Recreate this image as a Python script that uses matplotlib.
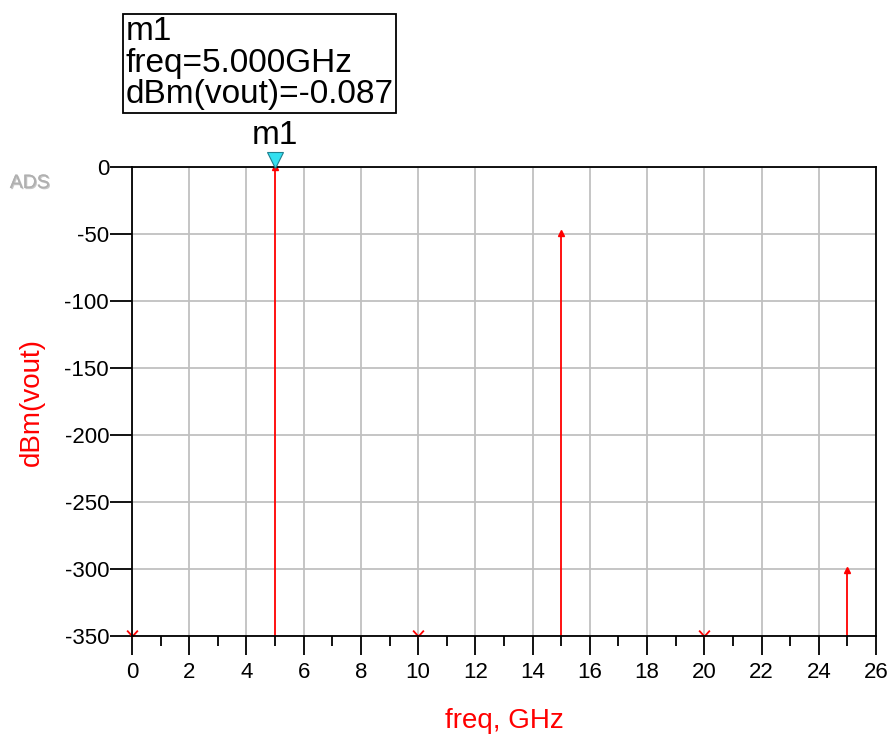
import matplotlib
matplotlib.use("Agg")
import matplotlib.pyplot as plt
from matplotlib.path import Path
import matplotlib.patheffects as pe
import numpy as np

plt.rcParams['font.family'] = ['Liberation Sans', 'DejaVu Sans']
plt.rcParams['axes.unicode_minus'] = False

freq = [0, 5, 10, 15, 20, 25]
dbm = [-400.0, -0.087, -400.0, -49.0, -400.0, -301.0]
ymin, ymax = -350, 0
xticks = list(range(0, 27, 2))
yticks = list(range(-350, 1, 50))
marker_freq = 5
marker_val = -0.087

fig = plt.figure(figsize=(8.9, 7.4), dpi=100)
ax = fig.add_axes([0.1483, 0.1405, 0.8360, 0.6338])
ax.set_xlim(0, 26)
ax.set_ylim(ymin, ymax)

red = '#ff0000'
vshape = Path([(-1, 1.1), (0, 0), (1, 1.1)], [Path.MOVETO, Path.LINETO, Path.LINETO])
for f, v in zip(freq, dbm):
    if v >= ymin:
        ax.vlines(f, ymin, v, color=red, lw=1.3, zorder=3)
        ax.plot([f], [v], marker='^', color=red, ms=5, zorder=4, clip_on=False)
    else:
        ax.plot([f], [ymin], marker=vshape, color=red, ms=8.5, mew=1.3,
                fillstyle='none', linestyle='none', zorder=4, clip_on=False)

ax.set_xticks(xticks)
ax.set_yticks(yticks)
ax.set_xticks(range(1, 26, 2), minor=True)
ax.grid(True, which='major', color='#c0c0c0', lw=1.3)
ax.set_axisbelow(True)
for s in ax.spines.values():
    s.set_color('black')
    s.set_linewidth(1.3)
    s.set_zorder(5)
ax.tick_params(axis='x', which='major', length=13.7, width=1.3, direction='out', labelsize=16, pad=5)
ax.tick_params(axis='x', which='minor', length=7.2, width=1.3, direction='out')
ax.tick_params(axis='y', which='major', length=15.5, width=1.3, direction='out', labelsize=16, pad=1)

ax.set_xlabel('freq, GHz', color=red, fontsize=20, labelpad=18)
ax.set_ylabel('dBm(vout)', color=red, fontsize=20, labelpad=14)

# marker
ax.plot([marker_freq], [ymax + 5.5], marker='v', ms=12, color='#33e0f0', mec='#208090',
        mew=0.8, clip_on=False, zorder=6)
ax.text(marker_freq, 12, 'm1', ha='center', va='bottom', fontsize=24, clip_on=False)

fig.text(0.141, 0.851, 'm1\nfreq=%.3fGHz\ndBm(vout)=%.3f' % (marker_freq, marker_val),
         fontsize=24, ha='left', va='bottom', linespacing=1.02,
         bbox=dict(boxstyle='square,pad=0.08', fc='white', ec='black', lw=1.3))
fig.text(0.011, 0.752, 'ADS', color='#b0b0b0', fontsize=14, ha='left', va='center',
         path_effects=[pe.withSimplePatchShadow(offset=(0.8, -0.8), shadow_rgbFace='#909090', alpha=0.5),
                       pe.Normal()])

fig.savefig('out.png', dpi=100)
